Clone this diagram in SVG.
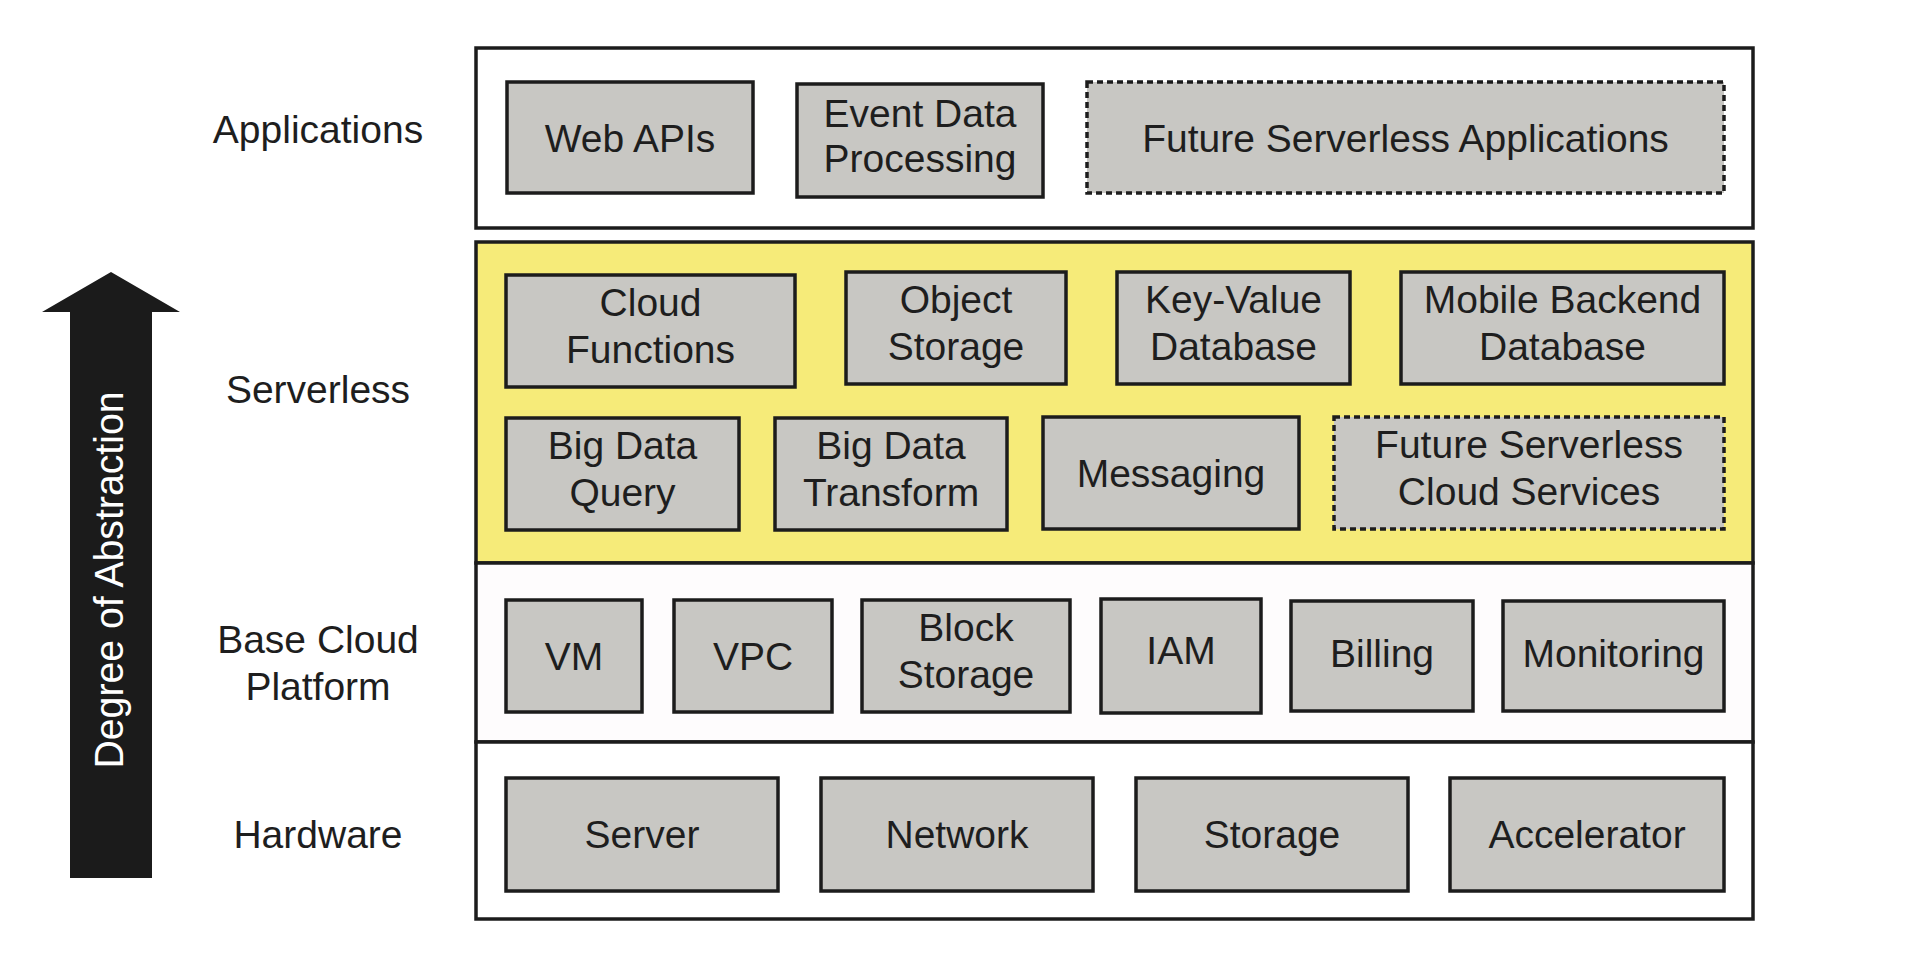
<svg xmlns="http://www.w3.org/2000/svg" width="1920" height="960" viewBox="0 0 1920 960">
<style>
text{font-family:"Liberation Sans",Arial,sans-serif;font-size:39px;fill:#1e1e1e;text-anchor:middle}
.layer{stroke:#1c1c1c;stroke-width:3.5}
.box{fill:#c8c7c3;stroke:#1c1c1c;stroke-width:3.5}
.dash{fill:#c8c7c3;stroke:#1c1c1c;stroke-width:3.5;stroke-dasharray:6 4}
.arrowtxt{fill:#ffffff;font-size:40px}
</style>
<rect width="1920" height="960" fill="#ffffff"/>
<g id="arrow">
<polygon points="111,272 180,312 152,312 152,878 70,878 70,312 42,312" fill="#1b1b1b"/>
<text class="arrowtxt" transform="translate(123,580) rotate(-90)" x="0" y="0" textLength="377" lengthAdjust="spacingAndGlyphs">Degree of Abstraction</text>
</g>
<g id="labels">
<text x="318" y="143">Applications</text>
<text x="318" y="403">Serverless</text>
<text x="318" y="653">Base Cloud</text>
<text x="318" y="700">Platform</text>
<text x="318" y="848">Hardware</text>
</g>
<g id="layer-applications">
<rect class="layer" x="476" y="48" width="1277" height="180" fill="#ffffff"/>
</g>
<g id="layer-serverless">
<rect class="layer" x="476" y="242" width="1277" height="321" fill="#f6eb79"/>
</g>
<g id="layer-base">
<rect class="layer" x="476" y="563" width="1277" height="179" fill="#fefcfd"/>
</g>
<g id="layer-hardware">
<rect class="layer" x="476" y="742" width="1277" height="177" fill="#ffffff"/>
</g>
<g id="web-apis"><rect class="box" x="507" y="82" width="246" height="111"/><text x="630" y="152">Web APIs</text></g>
<g id="event-data"><rect class="box" x="797" y="84" width="246" height="113"/><text x="920" y="127">Event Data</text><text x="920" y="172">Processing</text></g>
<g id="future-apps"><rect class="dash" x="1087" y="82" width="637" height="111"/><text x="1405.5" y="152">Future Serverless Applications</text></g>

<g id="cloud-functions"><rect class="box" x="506" y="275" width="289" height="112"/><text x="650.5" y="316">Cloud</text><text x="650.5" y="363">Functions</text></g>
<g id="object-storage"><rect class="box" x="846" y="272" width="220" height="112"/><text x="956" y="313">Object</text><text x="956" y="360">Storage</text></g>
<g id="key-value"><rect class="box" x="1117" y="272" width="233" height="112"/><text x="1233.5" y="313">Key-Value</text><text x="1233.5" y="360">Database</text></g>
<g id="mobile-backend"><rect class="box" x="1401" y="272" width="323" height="112"/><text x="1562.5" y="313">Mobile Backend</text><text x="1562.5" y="360">Database</text></g>

<g id="big-data-query"><rect class="box" x="506" y="418" width="233" height="112"/><text x="622.5" y="459">Big Data</text><text x="622.5" y="506">Query</text></g>
<g id="big-data-transform"><rect class="box" x="775" y="418" width="232" height="112"/><text x="891" y="459">Big Data</text><text x="891" y="506">Transform</text></g>
<g id="messaging"><rect class="box" x="1043" y="417" width="256" height="112"/><text x="1171" y="487">Messaging</text></g>
<g id="future-services"><rect class="dash" x="1334" y="417" width="390" height="112"/><text x="1529" y="458">Future Serverless</text><text x="1529" y="505">Cloud Services</text></g>

<g id="vm"><rect class="box" x="506" y="600" width="136" height="112"/><text x="574" y="670">VM</text></g>
<g id="vpc"><rect class="box" x="674" y="600" width="158" height="112"/><text x="753" y="670">VPC</text></g>
<g id="block-storage"><rect class="box" x="862" y="600" width="208" height="112"/><text x="966" y="641">Block</text><text x="966" y="688">Storage</text></g>
<g id="iam"><rect class="box" x="1101" y="599" width="160" height="114"/><text x="1181" y="664">IAM</text></g>
<g id="billing"><rect class="box" x="1291" y="601" width="182" height="110"/><text x="1382" y="667">Billing</text></g>
<g id="monitoring"><rect class="box" x="1503" y="601" width="221" height="110"/><text x="1613.5" y="667">Monitoring</text></g>

<g id="server"><rect class="box" x="506" y="778" width="272" height="113"/><text x="642" y="848">Server</text></g>
<g id="network"><rect class="box" x="821" y="778" width="272" height="113"/><text x="957" y="848">Network</text></g>
<g id="storage"><rect class="box" x="1136" y="778" width="272" height="113"/><text x="1272" y="848">Storage</text></g>
<g id="accelerator"><rect class="box" x="1450" y="778" width="274" height="113"/><text x="1587" y="848">Accelerator</text></g>
<g id="connectors"></g>
</svg>
